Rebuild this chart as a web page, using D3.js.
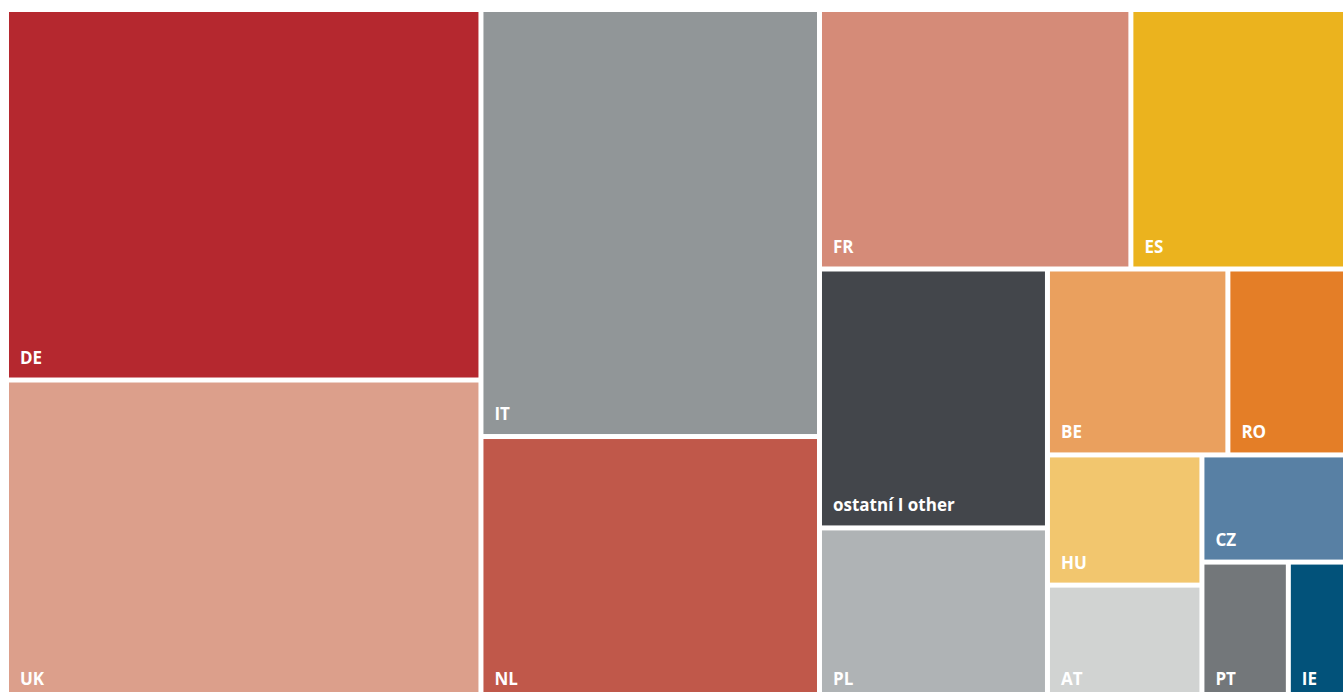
<!DOCTYPE html>
<html>
<head>
<meta charset="utf-8">
<script src="https://cdn.jsdelivr.net/npm/d3@7"></script>
<style>
  html, body { margin: 0; padding: 0; background: #ffffff; overflow: hidden; }
  svg { display: block; }
</style>
</head>
<body>
<script>
// Data (share, %), in the order the treemap lays them out
const categories = ["DE", "UK", "IT", "NL", "FR", "ES", "ostatní I other", "PL", "BE", "RO", "HU", "AT", "CZ", "PT", "IE"];
const values     = [18.97, 16.46, 15.60, 9.68, 8.72, 6.01, 6.37, 4.27, 3.62, 2.36, 2.17, 1.94, 1.66, 1.30, 0.86];
const colors     = ["#b5282f", "#dc9f8b", "#919698", "#c0584a", "#d58b78", "#ebb31e", "#43464b", "#afb3b5",
                    "#eaa05e", "#e47e27", "#f2c66e", "#d1d3d2", "#5880a4", "#73777a", "#02527a"];

(function () {
  const width = 1343, height = 692;
  const mLeft = 9, mTop = 12, mRight = 1343, mBottom = 699;

  const svg = d3.select("body").append("svg")
    .attr("width", width).attr("height", height);

  const root = d3.hierarchy({
      children: categories.map((c, i) => ({ name: c, value: values[i], color: colors[i] }))
    })
    .sum(d => d.value || 0);

  d3.treemap()
    .tile(d3.treemapSquarify.ratio(1))
    .size([mRight - mLeft, mBottom - mTop])
    .paddingInner(5)
    .round(false)(root);

  const g = svg.append("g").attr("transform", `translate(${mLeft},${mTop})`);

  const cell = g.selectAll("g.cell")
    .data(root.leaves())
    .join("g")
    .attr("class", "cell");

  cell.append("rect")
    .attr("x", d => d.x0)
    .attr("y", d => d.y0)
    .attr("width", d => d.x1 - d.x0)
    .attr("height", d => d.y1 - d.y0)
    .attr("fill", d => d.data.color);

  cell.append("text")
    .attr("x", d => d.x0 + 11)
    .attr("y", d => d.y1 - 14)
    .attr("fill", "#ffffff")
    .attr("font-family", "'Open Sans', Lato, sans-serif")
    .attr("font-weight", "bold")
    .attr("font-size", 17)
    .text(d => d.data.name);
})();
</script>
</body>
</html>
